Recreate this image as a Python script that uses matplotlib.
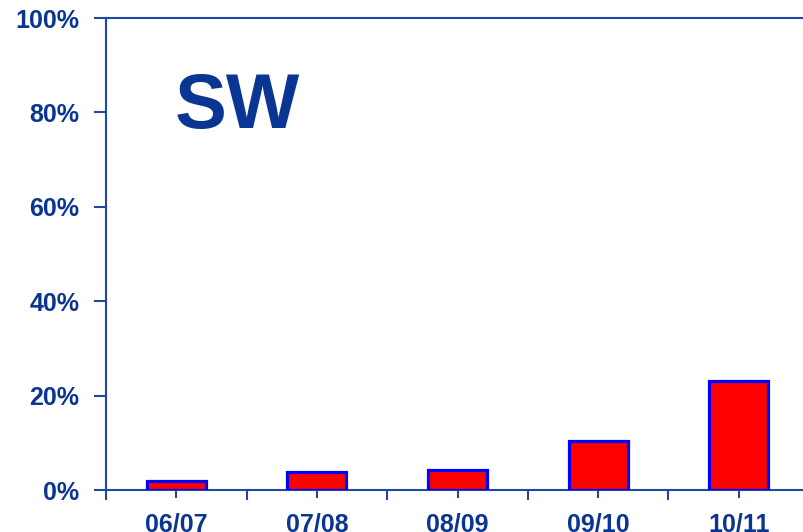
import matplotlib
matplotlib.use("Agg")
import matplotlib.pyplot as plt
import numpy as np

seasons = ["06/07", "07/08", "08/09", "09/10", "10/11"]
shares = [1.9, 3.9, 4.2, 10.4, 23.1]
y_labels = ["0%", "20%", "40%", "60%", "80%", "100%"]
y_ticks = [0, 20, 40, 60, 80, 100]

text_blue = "#0a3593"
axis_blue = "#1f47a3"

plt.rcParams["font.family"] = ["Liberation Sans", "DejaVu Sans"]

fig = plt.figure(figsize=(8.04, 5.32), dpi=100)
ax = fig.add_axes([106 / 804, 42 / 532, 703 / 804, 472 / 532])

x = np.arange(len(seasons))
ax.bar(x, shares, width=0.42, color="#ff0000", edgecolor="#0000ff", linewidth=2.3, zorder=3)

ax.set_xlim(-0.5, len(seasons) - 0.5)
ax.set_ylim(0, 100)

# boundary ticks (unlabelled) and centre ticks (labelled)
ax.set_xticks(np.arange(-0.5, len(seasons), 1.0))
ax.set_xticklabels([])
ax.set_xticks(x, minor=True)
ax.set_xticklabels(seasons, minor=True)
ax.tick_params(axis="x", which="major", direction="out", length=7, width=1.5, color=axis_blue)
ax.tick_params(axis="x", which="minor", direction="out", length=6, width=1.5, color=axis_blue,
               pad=10, labelsize=18, labelcolor=text_blue)
for lbl in ax.get_xticklabels(minor=True):
    lbl.set_fontweight("bold")

ax.set_yticks(y_ticks)
ax.set_yticklabels(y_labels, fontsize=18, fontweight="bold", color=text_blue)
ax.tick_params(axis="y", direction="out", length=9, width=1.5, color=axis_blue, pad=10)

for side in ["left", "bottom", "top", "right"]:
    ax.spines[side].set_color(axis_blue)
    ax.spines[side].set_linewidth(1.5)

ax.text(0.098, 0.81, "SW", transform=ax.transAxes, fontsize=56, fontweight="bold",
        color=text_blue, ha="left", va="center")

fig.savefig("out.png", dpi=100)
